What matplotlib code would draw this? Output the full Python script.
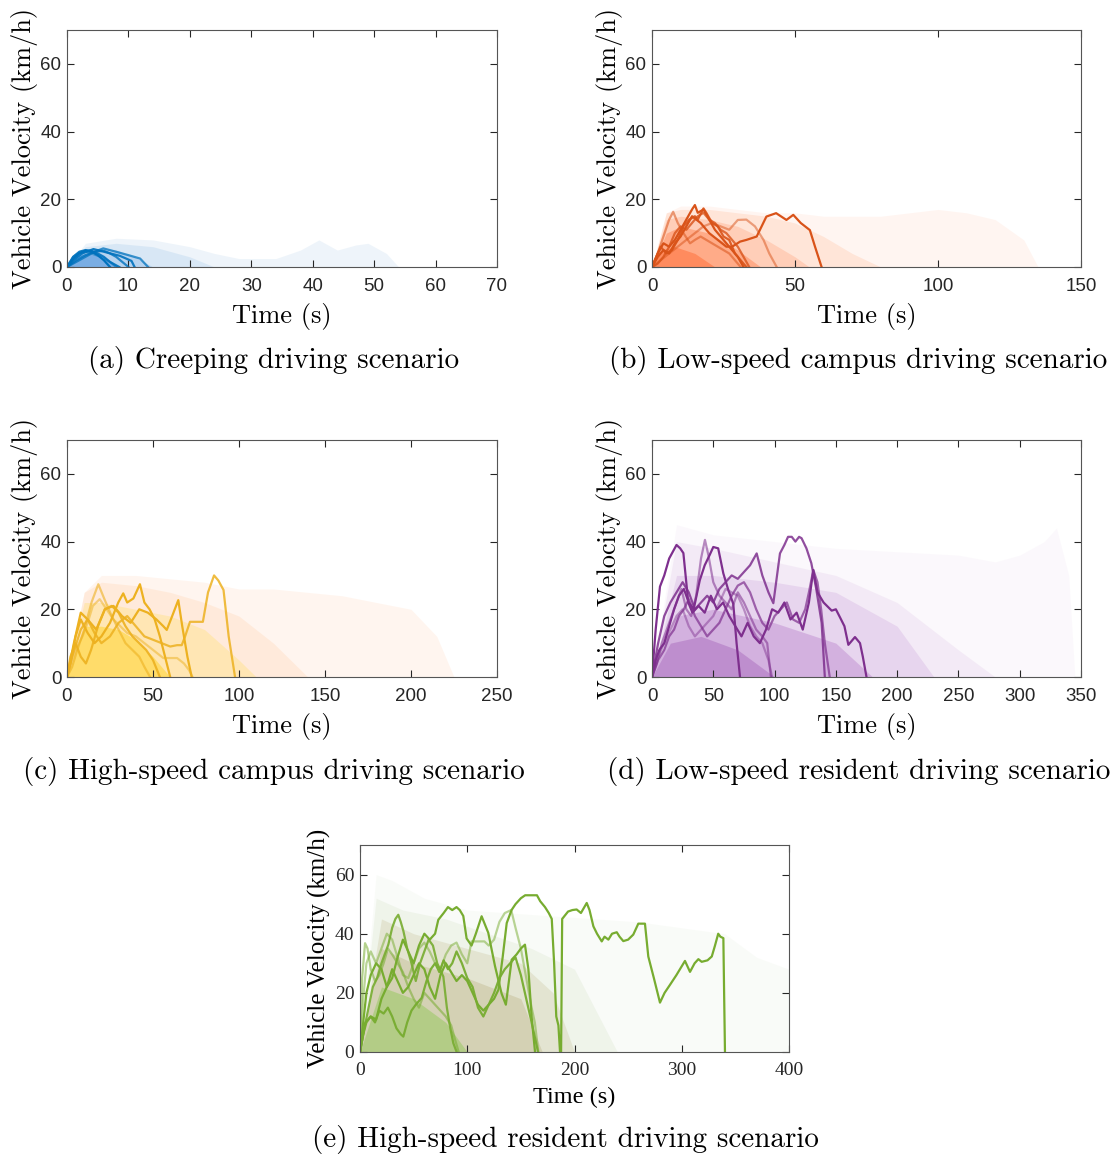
import matplotlib
matplotlib.use("Agg")
import matplotlib.pyplot as plt

W, H = 1114, 1158

# ---- (a) creeping ----
a_traces = [
    ([0, 1, 2, 3, 4, 5, 6, 7], [0, 2.5, 4, 4.8, 4.5, 3.5, 2, 0]),
    ([0, 1, 2, 3, 4, 5, 6, 7, 8.5], [0, 3, 4.5, 5, 4.8, 4, 3, 1.5, 0]),
    ([0, 1.5, 3, 4.5, 6, 7, 8, 9, 10], [0, 2, 3.5, 4.5, 4.8, 4, 3, 1.5, 0]),
    ([0, 1, 2.5, 4.3, 6, 8.6, 10.5, 11], [0, 2, 4, 5.3, 4.5, 3.3, 1.8, 0]),
    ([0, 1.5, 3, 4.5, 5.9, 8, 10, 11.9, 13.2], [0, 1.5, 3, 4.5, 5.5, 4.5, 3.5, 2.5, 0]),
    ([0, 1, 2, 3, 4, 5.5, 7, 8], [0, 3, 4.2, 4.5, 4, 3, 1.5, 0]),
]
a_alpha = [1, 0.9, 0.8, 0.9, 0.75, 0.6]
a_env_t = [[0, 3, 8, 14, 20, 24, 28, 34, 38, 41, 44, 47, 49, 52, 54],
           [0, 3, 8, 14, 20, 24],
           [0, 2, 5, 8, 11, 14],
           [0, 1, 3, 5, 7, 9]]
a_env_v = [[0, 7, 8.5, 8, 6, 4, 2.5, 2.5, 5, 8, 5, 6.5, 7, 4, 0],
           [0, 6, 7, 6, 3, 0],
           [0, 5, 5.5, 5, 3, 0],
           [0, 3, 4, 3.5, 1.5, 0]]

# ---- (b) low-speed campus ----
b_traces = [
    ([0, 2, 4, 6, 8, 10, 12, 14, 17, 20, 23, 26, 28, 30.8, 33, 36.6, 40, 43.4, 47, 49.4, 52, 55.2, 57, 59.3],
     [0, 3, 5, 4, 7, 9, 12, 15, 13, 10, 8, 6, 6, 7.5, 8, 9, 14.9, 15.9, 13.9, 15.4, 13, 10.9, 6, 0]),
    ([0, 2, 4, 6, 8, 10, 12, 14, 15, 16, 18, 20, 22, 24, 26, 28, 30, 32],
     [0, 4, 7, 6, 8, 11, 14, 17, 18.3, 16, 17, 14, 11, 9, 7, 5, 3, 0]),
    ([0, 1, 3, 5, 7, 9, 11, 13, 15, 16, 18, 19, 21, 23, 25, 27, 29, 31, 33],
     [0, 2, 6, 4, 5, 8, 12, 14, 15, 14, 17.3, 16, 13, 12, 9, 8, 4, 2, 0]),
    ([0, 2, 4, 6, 8, 10, 12, 14, 16, 18, 20, 22, 24, 26, 28, 30, 32, 34],
     [0, 1, 3, 6, 10, 12, 11, 13, 15, 16, 14, 13, 11, 10, 8, 6, 3, 0]),
    ([0, 2, 4, 6, 7.4, 9, 11, 13.3, 15, 17, 19, 21, 23, 25, 27, 29, 31],
     [0, 4, 9, 14, 16.3, 13, 10, 7, 8, 9, 8, 7, 6, 5, 4, 2, 0]),
    ([0, 3, 6, 9, 12, 15, 18, 21, 24, 27, 30, 33, 36, 39, 41, 43.6],
     [0, 2, 4, 6, 8, 10, 12, 13, 12, 11, 13.9, 14, 12, 8, 4, 0]),
]
b_alpha = [1, 1, 0.9, 0.8, 0.55, 0.5]
b_env_t = [[0, 5, 10, 20, 30, 40, 50, 60, 70, 80, 90, 100, 110, 120, 130, 135],
           [0, 5, 10, 20, 30, 40, 50, 60, 70, 80],
           [0, 5, 10, 20, 30, 40, 50, 55],
           [0, 5, 10, 20, 30, 38],
           [0, 3, 8, 15, 22]]
b_env_v = [[0, 16, 18, 18, 17, 16, 16, 15, 15, 15, 16, 17, 16, 14, 8, 0],
           [0, 16, 17, 17, 16, 15, 13, 9, 4, 0],
           [0, 14, 15, 14, 12, 8, 3, 0],
           [0, 10, 12, 10, 5, 0],
           [0, 5, 6, 4, 0]]

# ---- (c) high-speed campus ----
c_traces = [
    ([0, 3, 8, 12, 16, 20, 25, 30, 35, 40, 45, 50, 55, 60, 64, 66.7, 68.6, 71.5, 76, 79, 82, 85.5, 88, 91, 94, 97.7],
     [0, 6, 14, 17, 13, 10, 12, 16, 18, 15, 12, 11, 10, 9, 9.4, 9.4, 11.9, 16.3, 16.3, 16.3, 25, 30, 28.5, 25.7, 12, 0]),
    ([0, 4, 8, 12, 17, 22, 27, 32, 37, 42, 47, 52, 56, 58, 61, 64.7, 67, 70, 72.5],
     [0, 10, 19, 17, 14, 20, 21, 18, 16, 20, 19, 17, 15, 13.9, 17.8, 22.7, 15, 6, 0]),
    ([0, 2, 5, 8, 12, 16, 20, 25, 29.8, 32.7, 35, 38.6, 42.4, 45, 48, 51, 54, 57, 60],
     [0, 4, 12, 17, 13, 10, 12, 16, 22, 24.7, 22, 23.2, 27.4, 22, 20, 17, 12, 6, 0]),
    ([0, 3, 6, 10, 14.3, 18.2, 22, 26, 30, 34, 38, 42, 45, 48.3],
     [0, 3, 8, 14, 22.1, 27.4, 22.7, 18, 14, 10, 8, 6, 3, 0]),
    ([0, 2, 5, 8, 11, 14, 18, 22, 26, 30, 34, 38, 42, 46, 50, 54],
     [0, 6, 10, 6, 4, 8, 15, 20, 21, 19, 15, 12, 10, 8, 5, 0]),
    ([0, 3, 6, 9, 12, 15, 19, 23, 27, 31, 35, 40, 45, 50, 56, 60, 64, 68, 71, 73],
     [0, 5, 9, 12, 16, 21, 23, 20, 17, 15, 13, 12, 10, 8, 5.6, 5.6, 5.6, 4, 2, 0]),
]
c_alpha = [0.85, 1, 1, 0.6, 0.9, 0.5]
c_env_t = [[0, 10, 20, 40, 60, 80, 100, 120, 140, 160, 180, 200, 215, 225],
           [0, 10, 20, 40, 60, 80, 100, 120, 140],
           [0, 10, 20, 40, 60, 80, 100, 110],
           [0, 10, 20, 30, 40, 50, 60]]
c_env_v = [[0, 25, 30, 30, 29, 28, 26, 26, 25, 24, 22, 20, 12, 0],
           [0, 25, 28, 27, 25, 22, 18, 10, 0],
           [0, 22, 22, 20, 18, 14, 5, 0],
           [0, 15, 15, 14, 11, 6, 0]]

# ---- (d) low-speed resident ----
d_traces = [
    ([0, 3, 6.5, 10, 14, 17, 20, 23, 25.6, 29.6, 33, 38, 43, 48, 53, 58, 63, 68, 73, 78, 83, 88, 93, 98, 103, 108,
      113, 118, 123, 128, 131.6, 135, 140, 146.6, 150, 153.4, 157, 160.2, 165.6, 169.7, 172, 175],
     [0, 14, 26.7, 30, 35, 37, 39, 38, 36.6, 22, 19, 21, 19, 24, 20, 22, 18, 15, 12, 16, 12, 10, 14, 20, 19, 22,
      17, 19, 14, 22, 31.6, 25, 22, 19.6, 20, 17.6, 15, 9.5, 11.8, 10, 6, 0]),
    ([0, 3, 6, 10, 14, 18, 22, 26, 30, 34, 39, 43, 47, 50, 54, 58.2, 62, 66.3, 69, 71.8],
     [0, 5, 8, 10, 15, 20, 24, 26, 22, 20, 28.6, 33, 36, 38.4, 38, 30.6, 26, 21.6, 10, 0]),
    ([0, 4, 8, 12, 16, 20, 24, 28, 32, 36, 40, 43.2, 46, 50, 55, 60, 65, 70, 75, 80, 85, 90, 94, 97],
     [0, 4, 10, 14, 18, 22, 26, 20, 18, 24, 35, 40.5, 36, 28, 24, 22, 20, 25, 22, 18, 14, 12, 10, 0]),
    ([0, 5, 10, 15, 20, 25, 30, 35, 40, 45, 50, 55, 60, 65, 70, 75, 80, 85.4, 90, 95, 99, 104.4, 108, 111, 114,
      117, 120, 122, 126, 130, 134, 138.4, 141],
     [0, 10, 18, 22, 25, 28, 25, 20, 22, 24, 22, 26, 28, 30, 29, 31, 33, 36.5, 30, 25, 21.8, 36.5, 39, 41.4, 41.4,
      40, 41.4, 41, 38, 33.6, 26, 16, 0]),
    ([0, 5, 10, 14, 18, 22, 26, 30, 35, 40, 45, 50, 55, 60, 65, 70, 75, 80, 85, 90, 95, 100, 105, 110, 115, 120,
      125, 128, 131.6, 135, 138, 141, 145],
     [0, 5, 8, 12, 14, 18, 20, 23, 18, 15, 12, 14, 16, 20, 24, 27, 28, 25, 20, 16, 14, 18, 20, 22, 17, 16,
      20, 25, 31.6, 28, 20, 10, 0]),
    ([0, 5, 10, 15, 20, 25, 30, 35, 40, 50, 60, 70, 75, 80, 85, 90, 95, 98],
     [0, 6, 10, 14, 18, 20, 15, 12, 14, 18, 26, 24, 20, 15, 12, 10, 5, 0]),
]
d_alpha = [1, 1, 0.55, 0.85, 0.7, 0.45]
d_env_t = [[0, 20, 50, 100, 150, 200, 250, 280, 300, 320, 330, 340, 345],
           [0, 20, 50, 100, 150, 200, 250, 280],
           [0, 20, 50, 100, 150, 200, 230],
           [0, 20, 50, 100, 150, 180],
           [0, 15, 40, 70, 100]]
d_env_v = [[0, 45, 42, 40, 38, 37, 36, 34, 36, 40, 44, 30, 0],
           [0, 40, 38, 34, 30, 22, 8, 0],
           [0, 30, 30, 28, 25, 15, 0],
           [0, 18, 20, 16, 10, 0],
           [0, 10, 12, 8, 0]]

# ---- (e) high-speed resident ----
e_traces = [
    ([0, 5, 10, 15, 20, 25, 30, 35, 40, 45, 50, 55, 60, 65, 70, 75, 80, 85, 90, 95, 100, 105, 110, 115, 120, 125,
      129, 133, 136.8, 141.3, 145, 150, 154, 160, 165, 168, 172.5, 176, 178.8, 181, 183, 185, 186.5, 187.5, 188.5,
      194, 198, 202, 206, 211.4, 214, 217.6, 221, 225.4, 228, 231.6, 235, 239.4, 242, 245.5, 250, 254.8, 259.5,
      265.7, 268.8, 274, 279.7, 284, 289, 295, 300, 303, 307.7, 312, 315.5, 318.6, 324, 328, 331, 334, 336, 338.8,
      339.5, 340.3],
     [0, 10, 12, 11, 18, 22, 28, 24, 20, 22, 26, 30, 28, 22, 18, 26, 30, 27, 24, 26, 24, 20, 16, 14, 16, 18,
      21, 32, 43.6, 48, 50, 52, 53, 53, 53, 51, 49, 47, 45, 30, 12, 9, 0, 0, 45,
      47.5, 48, 48.2, 47, 50.4, 48, 42.5, 40, 37.4, 39, 38, 40, 40.5, 39, 37.5, 38, 39.7, 43.4,
      43.4, 32.3, 25, 16.7, 20, 22.7, 26, 29, 30.8, 27.1, 30, 31.4, 30.5, 31, 32.3, 36, 40, 39, 38.5,
      20, 0]),
    ([0, 3, 6, 10, 15, 20, 25, 30, 35, 40, 45, 50, 55, 60, 65, 70, 73, 78, 82, 86, 90, 93, 96.3, 99.4, 104, 108,
      113.4, 119.6, 125.9, 132, 136, 141.4, 146, 150, 153.8, 157, 160, 163.2],
     [0, 10, 20, 26, 30, 28, 22, 25, 32, 38, 34, 30, 36, 40, 38, 40, 44.7, 47, 49, 48, 49, 48, 46, 38.4, 36, 40,
      45.9, 40.3, 29, 19.8, 16, 31.2, 33, 35, 36.3, 28, 12, 0]),
    ([0, 4, 8, 12, 16, 20, 23, 26.4, 30, 33, 35.7, 38, 40.4, 44, 48, 52, 56, 60, 64, 68, 72, 77.7, 81, 83.9, 87,
      90.1],
     [0, 8, 15, 22, 25, 30, 33, 36.3, 42, 45, 46.4, 44, 41, 35, 30, 24, 30, 34, 38, 36, 30, 25.5, 15, 8.6, 3, 0]),
    ([0, 3, 6, 10, 14, 18, 22, 26, 30, 34, 38, 40.4, 44, 48, 52, 57.5, 62, 66, 70, 74, 78, 82, 86, 90, 95, 100,
      105, 110, 115, 120, 125, 130, 135, 140, 145, 150, 155, 160, 163, 166],
     [0, 6, 10, 12, 10, 14, 13, 15, 12, 8, 6, 5.2, 10, 14, 16, 18.3, 24, 28, 30, 27, 31, 28, 30, 34, 30, 25,
      22, 15, 12, 16, 20, 25, 28, 30, 32, 26, 18, 10, 5, 0]),
    ([0, 2, 4.7, 7, 10, 14, 18, 22, 26, 30, 35, 40, 45, 50, 55, 60, 65, 70, 75, 80, 85, 88, 92],
     [0, 25, 36.8, 35, 28, 24, 26, 30, 35, 33, 30, 27, 22, 18, 15, 20, 18, 16, 14, 12, 9, 5, 0]),
    ([0, 3, 6, 10, 15, 20, 25, 30, 35, 40, 45, 50, 55, 60, 65, 70, 75, 80, 85, 90, 95, 100, 104, 110, 116, 120,
      125, 130, 135, 141, 145, 150, 155, 160, 163, 166.3],
     [0, 18, 30, 34, 30, 35, 40, 38, 32, 26, 25, 30, 35, 37, 34, 30, 28, 33, 36, 37, 33, 30, 37.4, 37.4, 37.4,
      36, 38, 44, 47, 48, 42, 35, 25, 15, 10, 0]),
]
e_alpha = [1, 1, 0.9, 0.95, 0.55, 0.5]
e_env_t = [[0, 15, 30, 60, 100, 140, 180, 220, 260, 300, 340, 370, 400],
           [0, 15, 40, 80, 120, 160, 200, 240],
           [0, 20, 50, 100, 150, 180, 200],
           [0, 20, 50, 100, 150, 170],
           [0, 20, 50, 80, 100]]
e_env_v = [[0, 60, 58, 52, 48, 47, 46, 45, 44, 42, 40, 32, 28],
           [0, 52, 48, 45, 40, 35, 28, 0],
           [0, 45, 40, 35, 30, 20, 0],
           [0, 35, 30, 25, 18, 0],
           [0, 22, 18, 10, 0]]

captions = ["(a) Creeping driving scenario",
            "(b) Low-speed campus driving scenario",
            "(c) High-speed campus driving scenario",
            "(d) Low-speed resident driving scenario",
            "(e) High-speed resident driving scenario"]

fig = plt.figure(figsize=(W / 100, H / 100), dpi=100)


def panel(box, traces, alphas, env_t, env_v, line_col, env_cols, env_alpha, xmax, xstep,
          tickfont, tsize, xpad):
    l, t, r, b = box
    ax = fig.add_axes([l / W, 1 - b / H, (r - l) / W, (b - t) / H])
    for et, ev, fc, fa in zip(env_t, env_v, env_cols, env_alpha):
        ax.fill_between(et, 0, ev, color=fc, alpha=fa, lw=0, zorder=1)
    for (tt, vv), al in zip(traces, alphas):
        ax.plot(tt, vv, color=line_col, alpha=al, lw=1.6, zorder=2)
    ax.set_xlim(0, xmax)
    ax.set_ylim(0, 70)
    ax.set_xticks(range(0, xmax + 1, xstep))
    ax.set_yticks([0, 20, 40, 60])
    ax.tick_params(direction="in", top=True, right=True, length=5, width=0.8,
                   colors="#262626", labelsize=tsize, pad=4)
    ax.tick_params(axis="x", pad=xpad)
    for lab in ax.get_xticklabels() + ax.get_yticklabels():
        lab.set_family(tickfont)
    for s in ax.spines.values():
        s.set_color("#555555")
        s.set_linewidth(0.8)
    return ax


boxes = [(67, 30, 497, 267), (652, 30, 1081, 267), (67, 440, 497, 677), (652, 440, 1081, 677)]
specs = [
    (a_traces, a_alpha, a_env_t, a_env_v, "#0072BD",
     ["#C8DDF0", "#A8CCEA", "#7AB0E4", "#3F8BDB"], [0.3, 0.3, 0.35, 0.5], 70, 10),
    (b_traces, b_alpha, b_env_t, b_env_v, "#D95319",
     ["#FFE4D8", "#FFC0A0", "#FF9A70", "#FF6A30", "#FF5010"], [0.35, 0.3, 0.3, 0.35, 0.35], 150, 50),
    (c_traces, c_alpha, c_env_t, c_env_v, "#EDB120",
     ["#FFE8D8", "#FFD8B8", "#FFE27A", "#FFD52E"], [0.4, 0.35, 0.4, 0.55], 250, 50),
    (d_traces, d_alpha, d_env_t, d_env_v, "#7E2F8E",
     ["#F4EAF6", "#E6D2EC", "#CDA6DC", "#A860BE", "#9040A8"], [0.3, 0.35, 0.3, 0.3, 0.3], 350, 50),
]
for box, sp, cap in zip(boxes, specs, captions[:4]):
    ax = panel(box, *sp, tickfont="Liberation Sans", tsize=13.5, xpad=8)
    ax.set_xlabel("Time (s)", family="cmr10", fontsize=19, labelpad=6)
    ax.set_ylabel("Vehicle Velocity (km/h)", family="cmr10", fontsize=19, labelpad=2)
    fig.text(((box[0] + box[2]) / 2 - 8) / W, 1 - (box[3] + 94) / H, cap,
             family="cmr10", fontsize=21, ha="center", va="center")

ax = panel((360, 845, 789, 1052), e_traces, e_alpha, e_env_t, e_env_v, "#77AC30",
           ["#F2F7EE", "#DDE8D2", "#C0B888", "#A89A60", "#8CC850"], [0.4, 0.35, 0.25, 0.25, 0.45],
           400, 100, tickfont="Liberation Serif", tsize=14, xpad=7)
ax.set_xlabel("Time (s)", family="Liberation Serif", fontsize=17.5, labelpad=6)
ax.set_ylabel("Vehicle Velocity (km/h)", family="Liberation Serif", fontsize=18, labelpad=3)
fig.text(565 / W, 1 - 1140 / H, captions[4], family="cmr10", fontsize=21, ha="center", va="center")

fig.savefig("out.png", dpi=100)
